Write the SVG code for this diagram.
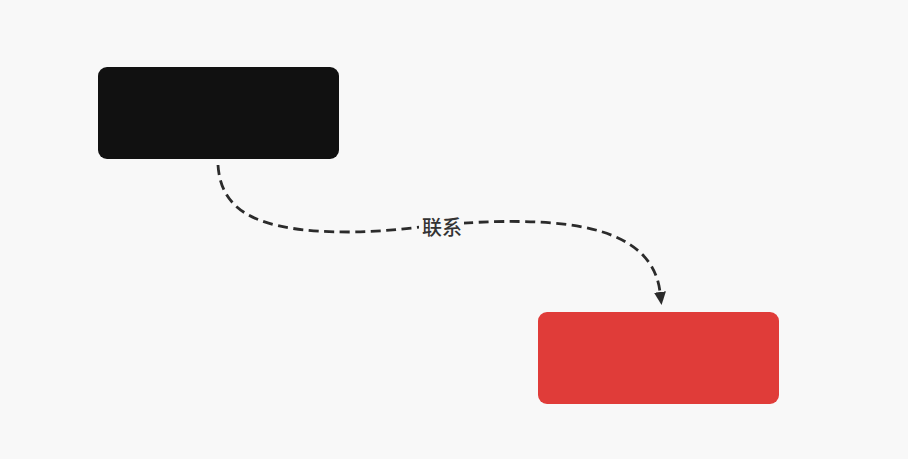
<svg xmlns="http://www.w3.org/2000/svg" width="908" height="459" viewBox="0 0 908 459">
<style>
.node{stroke:none}
.edge{fill:none;stroke:#2b2b2b;stroke-width:2.8;stroke-dasharray:10 5.5}
.lbl{font-family:"Noto Sans CJK SC","Noto Sans",sans-serif;font-size:20px;font-weight:500;fill:#333333}
</style>
<defs>
<marker id="arrow" markerUnits="userSpaceOnUse" markerWidth="13" markerHeight="12" refX="0" refY="6" orient="auto">
<path d="M0,0 L13,6 L0,12 z" fill="#2b2b2b"/>
</marker>
</defs>
<rect width="908" height="459" fill="#f8f8f8"/>
<g id="node-black">
<rect class="node" x="98" y="67" width="241" height="92" rx="9" fill="#111111"/>
</g>
<g id="node-red">
<rect class="node" x="538" y="312" width="241" height="92" rx="9" fill="#e03c39"/>
</g>
<g id="connectors">
<path class="edge" d="M218,165 C221,212 258,232 350,232 C400,232 440,222 505,221.5 C565,221 652,226 660,292" marker-end="url(#arrow)"/>
<rect x="419" y="214" width="45" height="27" fill="#f8f8f8"/>
<text class="lbl" x="442" y="234.5" text-anchor="middle">联系</text>
</g>
</svg>
